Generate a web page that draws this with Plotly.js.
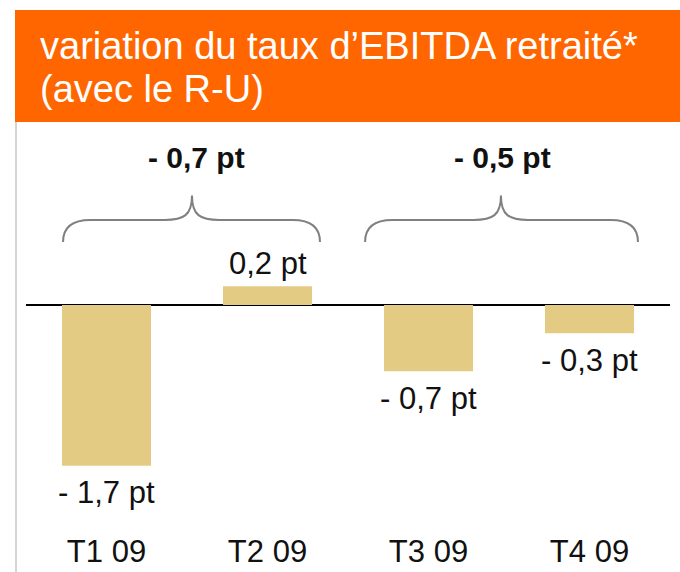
<!DOCTYPE html>
<html>
<head>
<meta charset="utf-8">
<script src="https://cdn.plot.ly/plotly-3.0.1.min.js"></script>
<style>html,body{margin:0;padding:0;background:#fff;}#chart{width:680px;height:572px;}</style>
</head>
<body>
<div id="chart"></div>
<script>
// ---- data ----
var categories = ["T1 09", "T2 09", "T3 09", "T4 09"];
var values = [-1.7, 0.2, -0.7, -0.3];
var valueLabels = ["- 1,7 pt", "0,2 pt", "- 0,7 pt", "- 0,3 pt"];
var groupLabels = ["- 0,7 pt", "- 0,5 pt"];
var titleLines = ["variation du taux d\u2019EBITDA retrait\u00e9*", "(avec le R-U)"];

// ---- styling ----
var FONT = "Liberation Sans, Arial, Helvetica, sans-serif";
var BAR = "#E4CB83";
var ORANGE = "#FF6600";

var trace = {
  type: "bar",
  x: categories,
  y: values,
  marker: {color: BAR},
  hoverinfo: "none"
};

var annotations = [];
values.forEach(function (v, i) {
  annotations.push({
    x: categories[i], y: v, xref: "x", yref: "y",
    text: valueLabels[i], showarrow: false,
    xanchor: "center", yanchor: "middle",
    yshift: v >= 0 ? 23 : -27,
    font: {family: FONT, size: 31, color: "#111"}
  });
});

// group labels over braces (positions in axis units)
var braces = [
  {x0: -0.27, tip: 0.531, x1: 1.326, lx: 0.556},
  {x0: 1.606, tip: 2.450, x1: 3.301, lx: 2.457}
];
var yEnd = 0.667, yMid = 0.90, yTip = 1.16, dx = 0.17;
var shapes = [];
braces.forEach(function (b, i) {
  var p = "M " + b.x0 + "," + yEnd +
    " Q " + b.x0 + "," + yMid + " " + (b.x0 + dx) + "," + yMid +
    " L " + (b.tip - dx) + "," + yMid +
    " C " + (b.tip - dx * 0.3) + "," + yMid + " " + b.tip + "," + (yMid + 0.05) + " " + b.tip + "," + yTip +
    " C " + b.tip + "," + (yMid + 0.05) + " " + (b.tip + dx * 0.3) + "," + yMid + " " + (b.tip + dx) + "," + yMid +
    " L " + (b.x1 - dx) + "," + yMid +
    " Q " + b.x1 + "," + yMid + " " + b.x1 + "," + yEnd;
  shapes.push({type: "path", xref: "x", yref: "y", path: p,
    line: {color: "#808080", width: 2}});
  annotations.push({
    x: b.lx, y: 1.566, xref: "x", yref: "y",
    text: "<b>" + groupLabels[i] + "</b>", showarrow: false,
    xanchor: "center", yanchor: "middle",
    font: {family: FONT, size: 30, color: "#111"}
  });
});

// header band & left border
shapes.push({type: "rect", xref: "paper", yref: "paper",
  x0: -0.01708, x1: 1.0156, y0: 1.0, y1: 1.2745,
  fillcolor: ORANGE, line: {width: 0}, layer: "below"});
shapes.push({type: "line", xref: "paper", yref: "paper",
  x0: -0.0155, x1: -0.0155, y0: -0.11, y1: 1.0,
  line: {color: "#d4d4d4", width: 2}});

annotations.push({
  x: 0.0186, y: 1.1863, xref: "paper", yref: "paper",
  text: titleLines[0], showarrow: false, xanchor: "left", yanchor: "middle",
  font: {family: FONT, size: 38, color: "#fff"}
});
annotations.push({
  x: 0.0186, y: 1.0809, xref: "paper", yref: "paper",
  text: titleLines[1], showarrow: false, xanchor: "left", yanchor: "middle",
  font: {family: FONT, size: 38, color: "#fff"}
});

var layout = {
  width: 680, height: 572,
  margin: {l: 26, r: 10, t: 122, b: 42},
  paper_bgcolor: "#fff", plot_bgcolor: "rgba(0,0,0,0)",
  showlegend: false,
  bargap: 0.447,
  xaxis: {
    type: "category", range: [-0.5, 3.5],
    showgrid: false, showline: false, zeroline: false, ticks: "",
    tickfont: {family: FONT, size: 31, color: "#111"},
    fixedrange: true
  },
  yaxis: {
    range: [-2.381, 1.937],
    showgrid: false, showline: false, showticklabels: false, ticks: "",
    zeroline: true, zerolinecolor: "#000", zerolinewidth: 1.5,
    fixedrange: true
  },
  shapes: shapes,
  annotations: annotations
};

Plotly.newPlot("chart", [trace], layout, {displayModeBar: false, staticPlot: true});
</script>
</body>
</html>
